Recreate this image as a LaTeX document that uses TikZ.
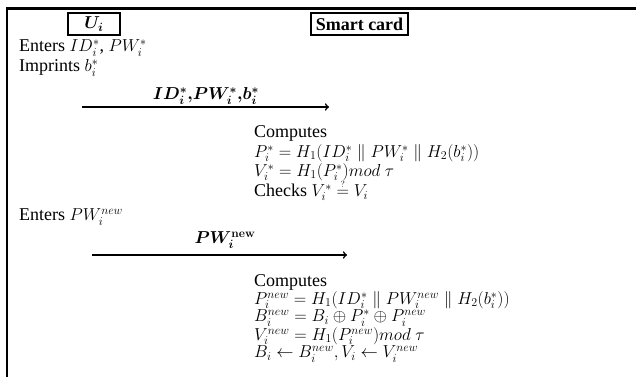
\documentclass[tikz,border=0pt]{standalone}
\usepackage{amsmath}
\usepackage{bm}
\usepackage{fontspec}
\setmainfont{Liberation Serif}
\begin{document}
\begin{tikzpicture}[x=1pt,y=-1pt,
  txt/.style={anchor=west,inner sep=0pt,font=\fontsize{18}{19}\selectfont},
  hdr/.style={draw,line width=2pt,inner sep=0pt,font=\fontsize{18}{19}\selectfont\bfseries},
  lbl/.style={inner sep=0pt,font=\fontsize{17.5}{19}\selectfont},
  msg/.style={line width=1.6pt,-to}]
\useasboundingbox (0,0) rectangle (636,377);
\draw[line width=2.5pt] (636,8.5) -- (7,8.5) -- (7,377);
\node[hdr,minimum width=52pt,minimum height=22pt] (u) at (94,24) {$\bm{U_i}$};
\node[hdr,minimum width=97pt,minimum height=22pt] (s) at (359.5,24) {Smart card};
\node[txt] (e1) at (19,48) {Enters $ID_i^*$, $PW_i^*$};
\node[txt] (e2) at (19,68) {Imprints $b_i^*$};
\coordinate (a1s) at (82,107);
\coordinate (a1e) at (329,107);
\draw[msg] (a1s) -- (a1e);
\node[lbl] (l1) at (206,96) {$\bm{ID_i^*{,}PW_i^*{,}b_i^*}$};
\node[txt] (c1) at (254,133) {Computes};
\node[txt] (p1) at (254,153) {$P_i^* = H_1(ID_i^* \parallel PW_i^* \parallel H_2(b_i^*))$};
\node[txt] (v1) at (254,172) {$V_i^* = H_1(P_i^*) mod\ \tau$};
\node[txt] (k1) at (254,190) {Checks $V_i^* \overset{\scriptscriptstyle ?}{=} V_i$};
\node[txt] (e3) at (19,217) {Enters $PW_i^{new}$};
\coordinate (a2s) at (92,255);
\coordinate (a2e) at (347,255);
\draw[msg] (a2s) -- (a2e);
\node[lbl] (l2) at (225,240) {$\bm{PW_i^{\mathbf{new}}}$};
\node[txt] (c2) at (254,282) {Computes};
\node[txt] (p2) at (254,300) {$P_i^{new} = H_1(ID_i^* \parallel PW_i^{new} \parallel H_2(b_i^*))$};
\node[txt] (b2) at (254,318) {$B_i^{new} = B_i\oplus P_i^*\oplus P_i^{new}$};
\node[txt] (v2) at (254,336) {$V_i^{new} = H_1(P_i^{new}) mod\ \tau$};
\node[txt] (r2) at (254,354) {$B_i \leftarrow B_i^{new}, V_i \leftarrow V_i^{new}$};
\end{tikzpicture}
\end{document}
